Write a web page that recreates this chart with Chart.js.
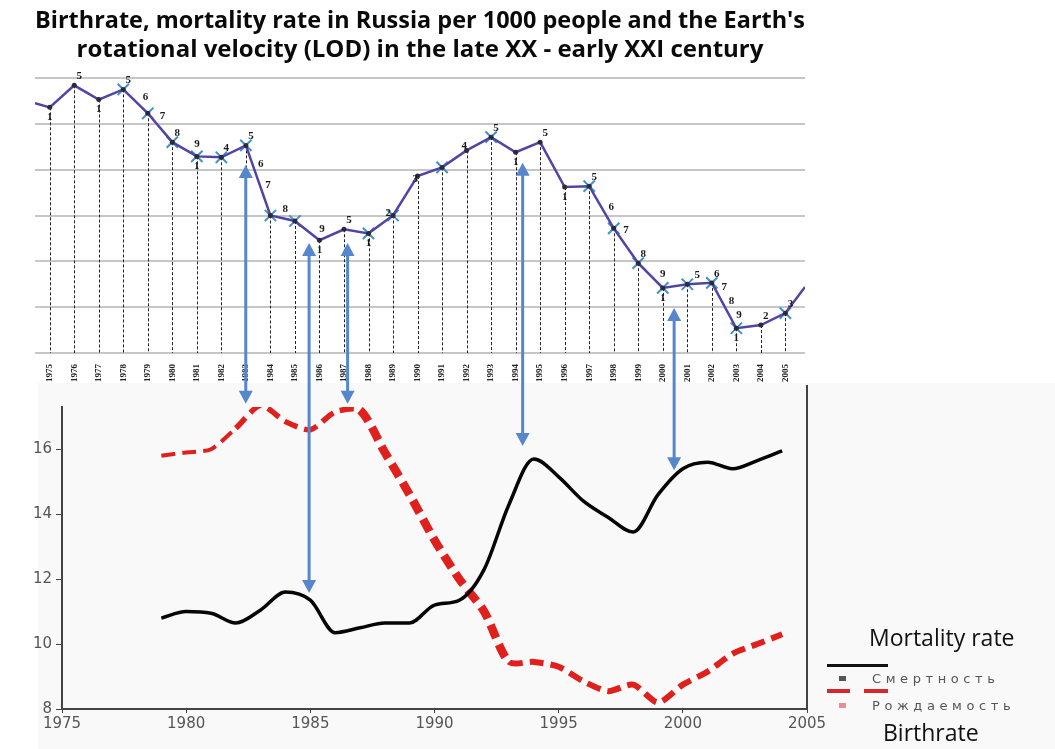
<!DOCTYPE html>
<html><head><meta charset="utf-8">
<script src="https://cdn.jsdelivr.net/npm/chart.js@4/dist/chart.umd.min.js"></script>
<style>
html,body{margin:0;padding:0;background:#fff;width:1055px;height:749px;overflow:hidden;position:relative;font-family:Lato,sans-serif}
#bg{position:absolute;left:38px;top:383px;width:1017px;height:366px;background:#f9f9f9}
canvas{position:absolute}
#top{left:0;top:0}
#bottom{left:0;top:385px}
#overlay{left:0;top:0;pointer-events:none}
.lg{position:absolute;white-space:nowrap;line-height:1}
.big{font-family:"Open Sans",sans-serif;font-size:23px;color:#111}
.ru{font-family:"DejaVu Sans",sans-serif;font-size:13px;letter-spacing:4.6px;color:#555}
.sw{position:absolute}
</style></head><body>
<div id="bg"></div>
<canvas id="bottom" width="840" height="364"></canvas>
<canvas id="top" width="820" height="385"></canvas>
<canvas id="overlay" width="1055" height="749"></canvas>

<div class="lg big" style="left:869px;top:626px">Mortality rate</div>
<div class="sw" style="left:827px;top:664px;width:61px;height:3px;background:#111"></div>
<div class="sw" style="left:839px;top:676px;width:7px;height:5px;background:#555"></div>
<div class="lg ru" style="left:872px;top:672px">Смертность</div>
<div class="sw" style="left:827px;top:689px;width:23px;height:4px;background:#d8262a"></div>
<div class="sw" style="left:864px;top:689px;width:24px;height:4px;background:#d8262a"></div>
<div class="sw" style="left:839px;top:703px;width:7px;height:5px;background:#f08a95"></div>
<div class="lg ru" style="left:872px;top:699px">Рождаемость</div>
<div class="lg big" style="left:883px;top:721px">Birthrate</div>

<script>
// ---------- DATA ----------
const lodYears  = [1974.4,1975,1976,1977,1978,1979,1980,1981,1982,1983,1984,1985,1986,1987,1988,1989,1990,
                   1991,1992,1993,1994,1995,1996,1997,1998,1999,2000,2001,2002,2003,2004,2005,2005.8];
const lodValues = [5.45,5.36,5.84,5.53,5.75,5.23,4.6,4.29,4.27,4.53,3.0,2.88,2.46,2.7,2.61,3.0,3.86,
                   4.05,4.42,4.71,4.38,4.6,3.62,3.64,2.72,1.96,1.42,1.5,1.53,0.54,0.61,0.87,1.44];
const lodTickYears = [1975,1976,1977,1978,1979,1980,1981,1982,1983,1984,1985,1986,1987,1988,1989,1990,
                      1991,1992,1993,1994,1995,1996,1997,1998,1999,2000,2001,2002,2003,2004,2005];
const lodCrossedYears = [1978,1979,1980,1981,1982,1983,1984,1985,1988,1989,1991,1993,1997,1998,1999,2000,2001,2002,2003,2005];
const tagAboveYears = [1976,1978,1978.7,1979.4,1980,1980.8,1982,1983,1983.4,1983.7,1984.4,1985.9,1987,1988.6,1989.7,
                       1991.7,1993,1995,1997,1997.7,1998.3,1999,1999.8,2001.2,2002,2002.3,2002.6,2002.9,2004,2005];
const tagAboveText  = ['5','5','6','7','8','9','4','5','6','7','8','9','5','2','3',
                       '4','5','5','5','6','7','8','9','5','6','7','8','9','2','3'];
const tagBelowYears = [1975,1977,1981,1986,1988,1994,1996,2000,2003];
const tagBelowText  = ['1','1','1','1','1','1','1','1','1'];

const demoYears = [1979,1980,1981,1982,1983,1984,1985,1986,1987,1988,1989,1990,1991,
                   1992,1993,1994,1995,1996,1997,1998,1999,2000,2001,2002,2003,2004];
const mortality = [10.8,11.0,10.95,10.65,11.05,11.6,11.35,10.35,10.5,10.65,10.65,11.2,11.35,
                   12.3,14.3,15.7,15.15,14.4,13.9,13.45,14.6,15.4,15.6,15.4,15.65,15.95];
const birthrate = [15.8,15.9,16.0,16.65,17.35,16.85,16.6,17.15,17.2,15.9,14.6,13.2,12.0,
                   11.0,9.45,9.45,9.3,8.85,8.55,8.75,8.2,8.75,9.15,9.7,10.0,10.3];
const bottomTickYears = [1975,1980,1985,1990,1995,2000,2005];

// arrows: x in lower chart years, top end in LOD units, bottom end in per-1000 units
const arrowYears = [1982.4,1984.95,1986.5,1993.55,1999.65];
const arrowFromLod = [4.1,2.4,2.4,4.15,0.98];
const arrowToRate = [17.4,11.57,17.4,16.1,15.35];

const titleLines = ["Birthrate, mortality rate in Russia per 1000 people and the Earth's",
                    "rotational velocity (LOD) in the late XX - early XXI century"];

// ---------- TOP CHART ----------
const dropLines = {
  id:'dropLines',
  beforeDatasetsDraw(chart){
    const {ctx, scales:{y}} = chart;
    const meta = chart.getDatasetMeta(0);
    const y0 = y.getPixelForValue(0);
    ctx.save();
    ctx.strokeStyle = '#222'; ctx.lineWidth = 1; ctx.setLineDash([3,2]);
    meta.data.forEach((el,i)=>{
      if(!Number.isInteger(lodYears[i])) return;
      ctx.beginPath(); ctx.moveTo(Math.round(el.x)+0.5, el.y); ctx.lineTo(Math.round(el.x)+0.5, y0); ctx.stroke();
    });
    ctx.restore();
  }
};
function lineYAt(chart, yr){
  const meta = chart.getDatasetMeta(0);
  const xs = chart.scales.x.getPixelForValue(yr);
  for(let i=0;i<meta.data.length-1;i++){
    const a = meta.data[i], b = meta.data[i+1];
    if(xs>=a.x && xs<=b.x){ const t=(xs-a.x)/(b.x-a.x||1); return [xs, a.y+(b.y-a.y)*t]; }
  }
  return [xs, meta.data[0].y];
}
const tags = {
  id:'tags',
  afterDatasetsDraw(chart){
    const ctx = chart.ctx;
    ctx.save();
    ctx.font = 'bold 11px "Liberation Serif", serif';
    ctx.fillStyle = '#1a1a1a'; ctx.textAlign = 'center'; ctx.textBaseline = 'middle';
    tagAboveYears.forEach((yr,i)=>{ const [x,y]=lineYAt(chart,yr); ctx.fillText(tagAboveText[i], x+5, y-9); });
    tagBelowYears.forEach((yr,i)=>{ const [x,y]=lineYAt(chart,yr); ctx.fillText(tagBelowText[i], x, y+10); });
    ctx.restore();
  }
};
const lodPoints = lodYears.map((x,i)=>({x, y:lodValues[i]}));
const topChart = new Chart(document.getElementById('top'), {
  type:'line',
  data:{datasets:[
    {label:'LOD', data:lodPoints, borderColor:'#5244a6', borderWidth:2.5, tension:0,
     pointRadius: c => Number.isInteger(lodYears[c.dataIndex]) ? 2.5 : 0,
     pointBackgroundColor:'#2a2a3a', pointBorderWidth:0},
    {label:'marks', data:lodPoints, showLine:false, pointStyle:'crossRot',
     pointRadius: c => lodCrossedYears.includes(lodYears[c.dataIndex]) ? 8 : 0,
     pointBorderColor:'#3f93c2', pointBorderWidth:2}
  ]},
  options:{
    responsive:false, animation:false, devicePixelRatio:1,
    layout:{padding:{left:35,right:15,top:0,bottom:0}},
    plugins:{
      legend:{display:false}, tooltip:{enabled:false},
      title:{display:true, text:titleLines, color:'#0a0a0a',
             font:{family:'Open Sans', weight:'bold', size:24, lineHeight:1.2},
             padding:{top:7,bottom:13.4}}
    },
    scales:{
      x:{type:'linear', min:1974.4, max:2005.8,
         afterBuildTicks: s => { s.ticks = lodTickYears.map(v=>({value:v})); },
         afterFit: s => { s.height = 32; },
         ticks:{autoSkip:false, minRotation:90, maxRotation:90, padding:3,
                color:'#222', font:{family:'Liberation Serif', weight:'bold', size:9},
                callback: v => String(v)},
         grid:{display:false}, border:{display:false}},
      y:{min:0, max:6,
         afterFit: s => { s.width = 0; },
         ticks:{display:false, stepSize:1},
         grid:{color:'#c6c6c6', lineWidth:2, drawTicks:false},
         border:{display:false}}
    }
  },
  plugins:[dropLines, tags]
});

// ---------- BOTTOM CHART ----------
const rightFrame = {
  id:'rightFrame',
  afterDraw(chart){
    const {ctx, chartArea:a} = chart;
    ctx.save(); ctx.strokeStyle='#444'; ctx.lineWidth=2;
    ctx.beginPath(); ctx.moveTo(a.right, a.top-24); ctx.lineTo(a.right, a.bottom); ctx.stroke();
    ctx.restore();
  }
};
const bottomChart = new Chart(document.getElementById('bottom'), {
  type:'line',
  data:{datasets:[
    {label:'Смертность', data:demoYears.map((x,i)=>({x,y:mortality[i]})),
     borderColor:'#050505', borderWidth:3.5, pointRadius:0, cubicInterpolationMode:'monotone'},
    {label:'Рождаемость', data:demoYears.map((x,i)=>({x,y:birthrate[i]})),
     borderColor:'#e0201c', borderWidth:6, borderDash:[14,7], pointRadius:0, tension:0.25,
     segment:{borderWidth: c => { const x=c.p0.parsed.x; return x<1982 ? 4 : (x<1987 ? 5.5 : (x<1993 ? 8.5 : 6)); }}}
  ]},
  options:{
    responsive:false, animation:false, devicePixelRatio:1,
    layout:{padding:{left:0,right:33,top:22,bottom:0}},
    plugins:{legend:{display:false}, tooltip:{enabled:false}},
    scales:{
      x:{type:'linear', min:1975, max:2005,
         afterBuildTicks: s => { s.ticks = bottomTickYears.map(v=>({value:v})); },
         afterFit: s => { s.height = 40; },
         ticks:{color:'#555', padding:2, font:{family:'DejaVu Sans', size:15}, callback: v => String(v), maxRotation:0},
         grid:{drawOnChartArea:false, drawTicks:true, tickLength:4, color:'#444'},
         border:{color:'#444', width:2}},
      y:{min:8, max:17.3,
         afterBuildTicks: s => { s.ticks = s.ticks.filter(t => t.value % 2 === 0); },
         afterFit: s => { s.width = 62; },
         ticks:{stepSize:2, color:'#555', padding:4, font:{family:'DejaVu Sans', size:15}},
         grid:{drawOnChartArea:false, drawTicks:true, tickLength:6, color:'#444'},
         border:{color:'#444', width:2}}
    }
  },
  plugins:[rightFrame]
});

// ---------- ARROWS (overlay, positioned through the charts' scales) ----------
(function drawArrows(){
  const ov = document.getElementById('overlay');
  const ctx = ov.getContext('2d');
  const topOff = document.getElementById('top').offsetTop;
  const botOff = document.getElementById('bottom').offsetTop;
  const botLeft = document.getElementById('bottom').offsetLeft;
  ctx.strokeStyle = '#5687cc'; ctx.fillStyle = '#5687cc'; ctx.lineWidth = 3;
  const head = 13, half = 7;
  arrowYears.forEach((yr,i)=>{
    const x = botLeft + bottomChart.scales.x.getPixelForValue(yr);
    const y1 = topOff + topChart.scales.y.getPixelForValue(arrowFromLod[i]);
    const y2 = botOff + bottomChart.scales.y.getPixelForValue(arrowToRate[i]);
    ctx.beginPath(); ctx.moveTo(x, y1+head-1); ctx.lineTo(x, y2-head+1); ctx.stroke();
    ctx.beginPath(); ctx.moveTo(x, y1); ctx.lineTo(x-half, y1+head); ctx.lineTo(x+half, y1+head); ctx.closePath(); ctx.fill();
    ctx.beginPath(); ctx.moveTo(x, y2); ctx.lineTo(x-half, y2-head); ctx.lineTo(x+half, y2-head); ctx.closePath(); ctx.fill();
  });
})();
</script>
</body></html>
